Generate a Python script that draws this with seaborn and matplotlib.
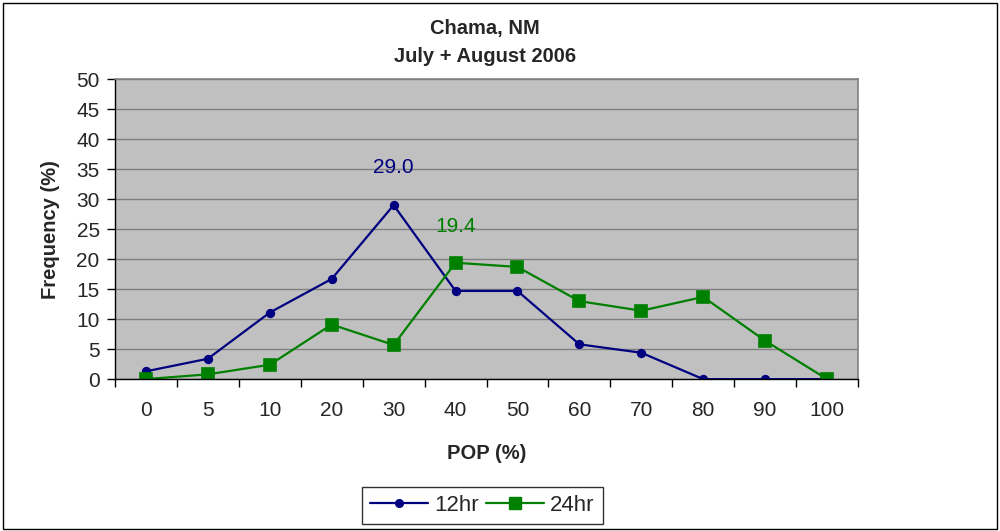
import pandas as pd
import matplotlib.pyplot as plt
import seaborn as sns
from matplotlib.patches import Rectangle
from matplotlib.lines import Line2D


categories = ["0", "5", "10", "20", "30", "40", "50", "60", "70", "80", "90", "100"]
freq_12hr = [1.3, 3.4, 11.1, 16.7, 29.0, 14.7, 14.7, 5.8, 4.4, 0.0, 0.0, 0.0]
freq_24hr = [0.0, 0.8, 2.4, 9.1, 5.7, 19.4, 18.7, 13.0, 11.4, 13.7, 6.4, 0.0]

blue = "#000080"
green = "#008000"

df12 = pd.DataFrame({"pop": categories, "freq": freq_12hr})
df24 = pd.DataFrame({"pop": categories, "freq": freq_24hr})

sns.set_style("white")
plt.rcParams["font.family"] = ["Liberation Sans", "DejaVu Sans"]

fig = plt.figure(figsize=(10, 5.31), dpi=100)
ax = fig.add_axes([0.115, 0.286, 0.743, 0.565])
ax.set_facecolor("#C0C0C0")

sns.pointplot(data=df12, x="pop", y="freq", order=categories, color=blue,
              marker="o", markersize=5.5, linewidth=1.6, ax=ax)
sns.pointplot(data=df24, x="pop", y="freq", order=categories, color=green,
              marker="s", markersize=9, linewidth=1.6, ax=ax)

ax.set_xlim(-0.5, 11.5)
ax.set_ylim(0, 50)
ax.set_yticks(range(0, 51, 5))
ax.yaxis.grid(True, color="#808080", linewidth=1)
ax.set_axisbelow(True)

# ticks between the categories
ax.set_xticks([i - 0.5 for i in range(13)], minor=True)
ax.tick_params(axis="x", which="major", length=0, pad=16, labelsize=15)
ax.tick_params(axis="x", which="minor", length=6, width=1, color="black", direction="out", bottom=True)
ax.tick_params(axis="y", length=6, width=1, color="black", direction="out", left=True, labelsize=15, pad=5)

for side in ["top", "right"]:
    ax.spines[side].set_color("#808080")
    ax.spines[side].set_linewidth(1.2)
for side in ["left", "bottom"]:
    ax.spines[side].set_color("black")
    ax.spines[side].set_linewidth(1)

ax.set_xlabel("POP (%)", fontsize=14.5, fontweight="bold", labelpad=17)
ax.set_ylabel("Frequency (%)", fontsize=14.5, fontweight="bold", labelpad=12)

ax.text(4, 35.2, "29.0", color=blue, fontsize=15, ha="center", va="center")
ax.text(5, 25.5, "19.4", color=green, fontsize=15, ha="center", va="center")

fig.text(0.485, 0.947, "Chama, NM", ha="center", va="center", fontsize=14.5, fontweight="bold")
fig.text(0.485, 0.893, "July + August 2006", ha="center", va="center", fontsize=14.5, fontweight="bold")

handles = [
    Line2D([], [], color=blue, marker="o", markersize=5.5, linewidth=1.6),
    Line2D([], [], color=green, marker="s", markersize=9, linewidth=1.6),
]
leg = fig.legend(handles, ["12hr", "24hr"], loc="center", bbox_to_anchor=(0.4825, 0.0485),
                 ncol=2, fontsize=16, frameon=True, fancybox=False, handlelength=2.6,
                 columnspacing=0.3, handletextpad=0.3, borderpad=0.35)
leg.get_frame().set_edgecolor("black")
leg.get_frame().set_linewidth(1)

fig.patches.append(Rectangle((0.003, 0.003), 0.994, 0.992, transform=fig.transFigure,
                             fill=False, edgecolor="black", linewidth=1))

fig.savefig("out.png", dpi=100, facecolor="white")
